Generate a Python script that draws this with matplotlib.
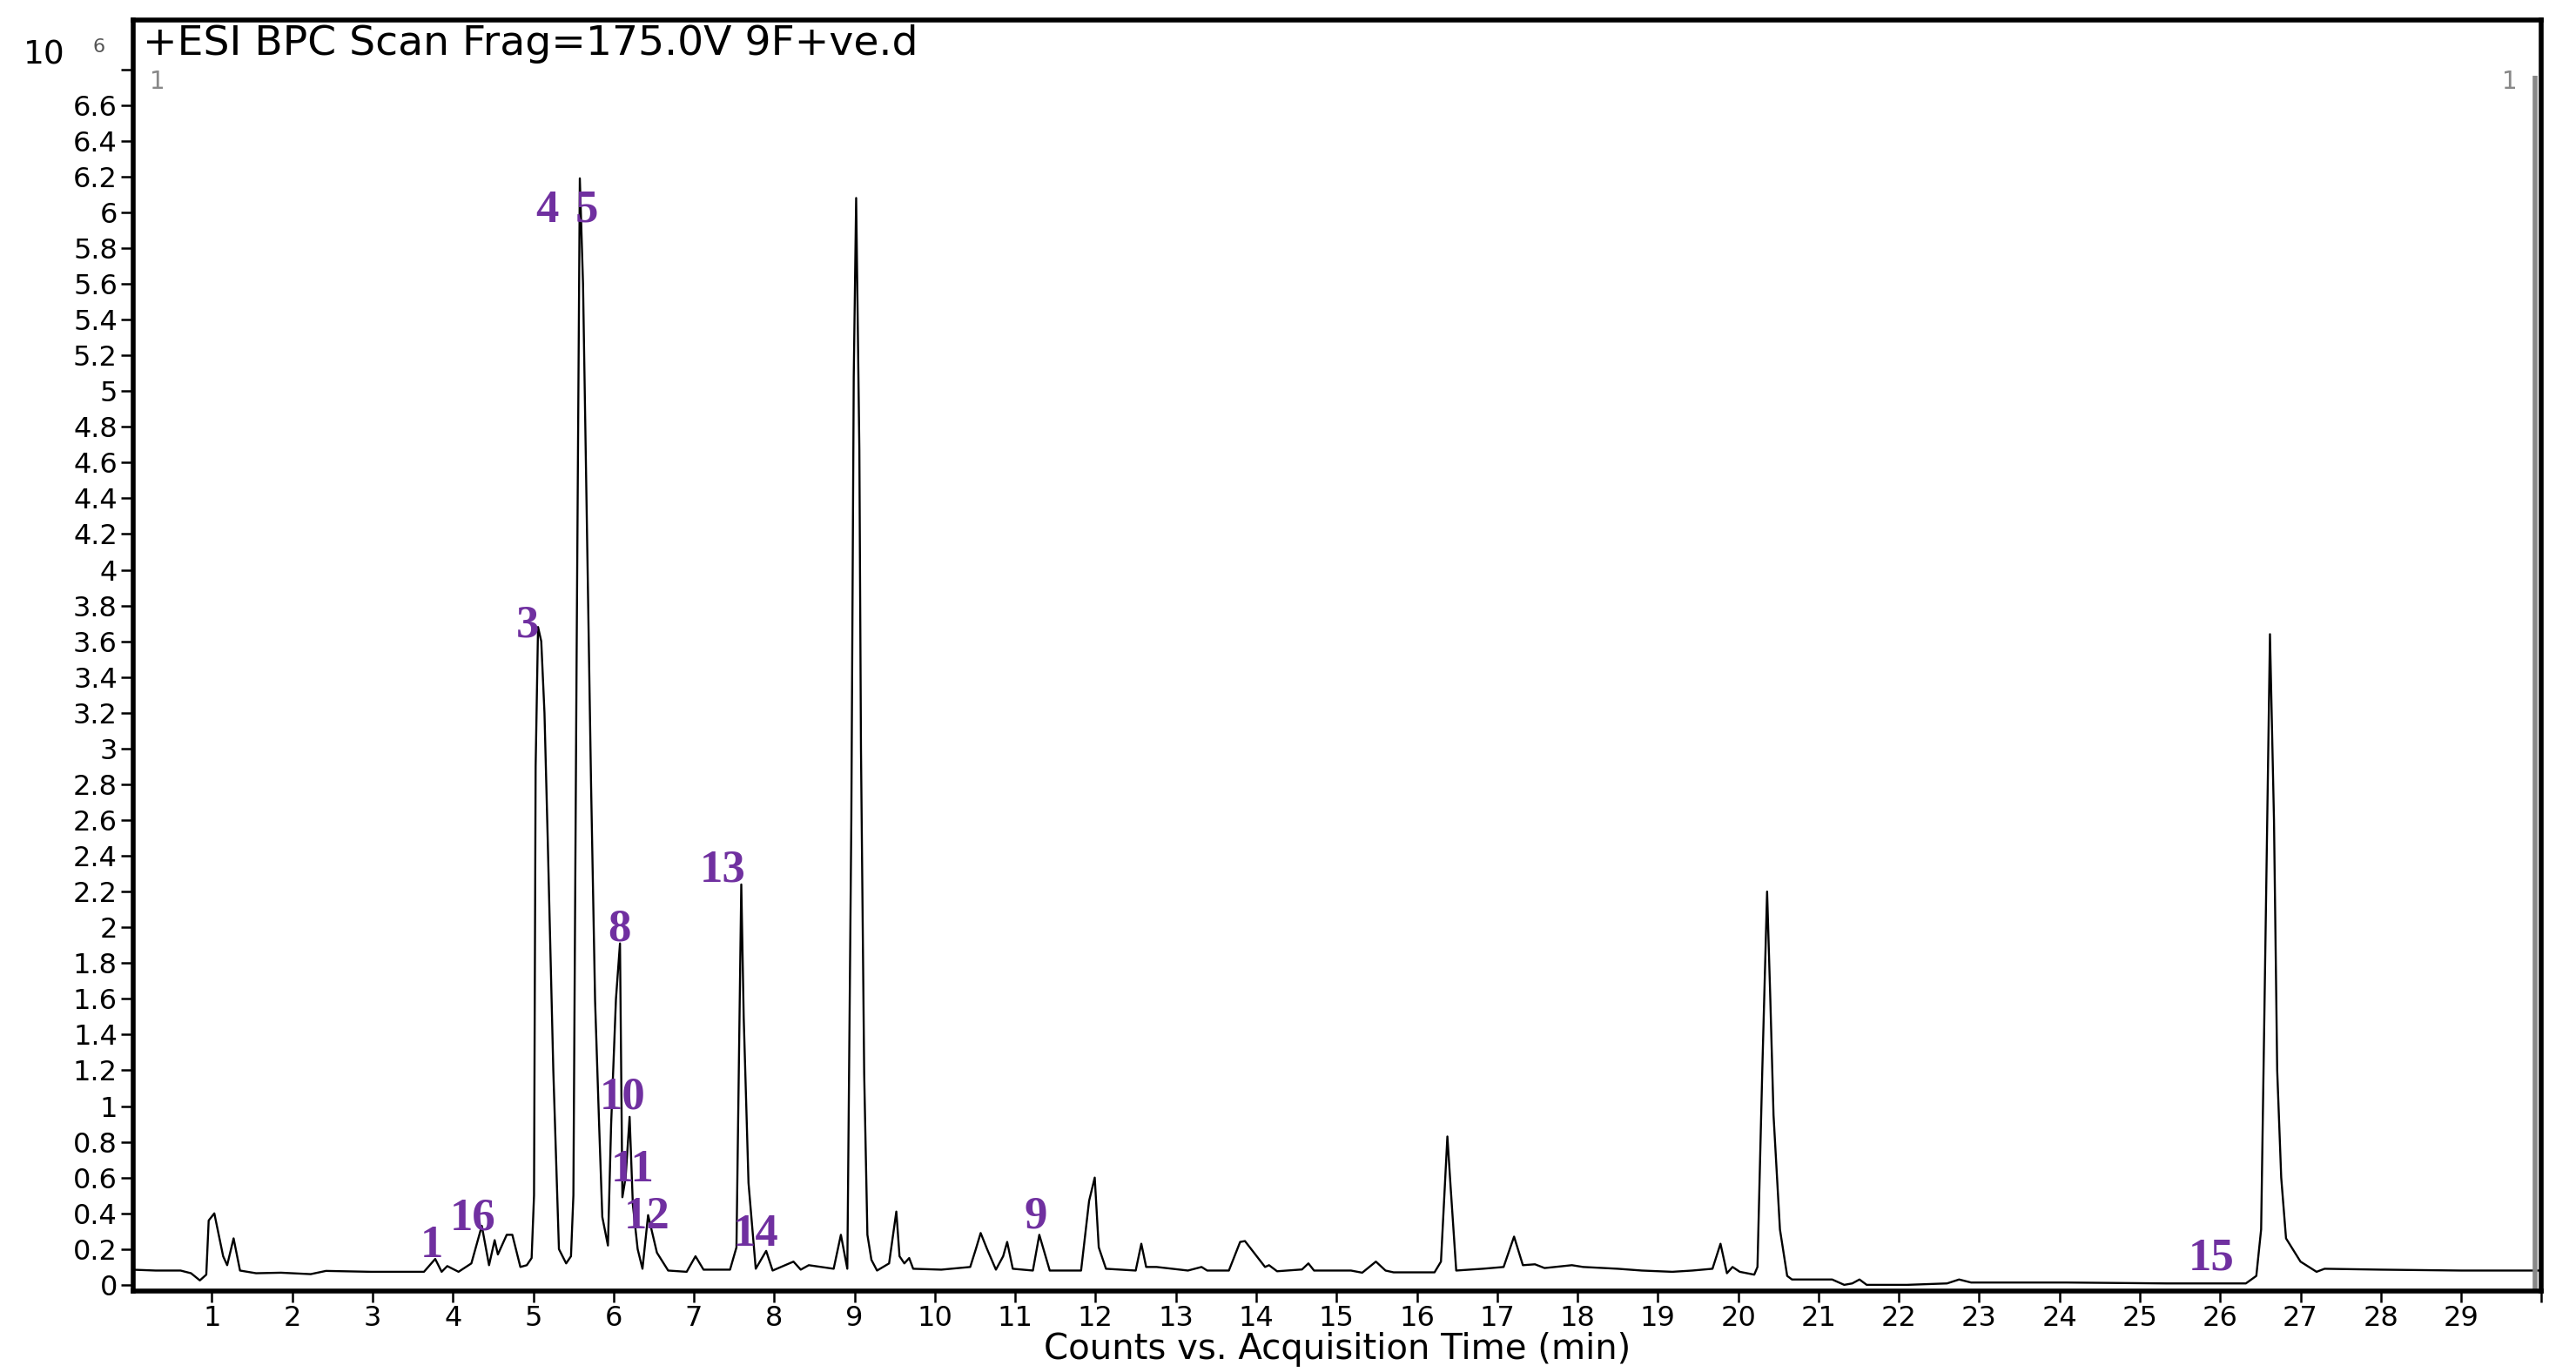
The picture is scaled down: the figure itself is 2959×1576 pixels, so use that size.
import numpy as np
import matplotlib.pyplot as plt

# retention time (min) and intensity (x10^6 counts)
time_min = [0.00, 0.30, 0.61, 0.74, 0.85, 0.93, 0.96, 1.03, 1.14, 1.19, 1.27, 1.35, 1.55, 1.86,
            2.23, 2.42, 2.98, 3.64, 3.78, 3.86, 3.93, 4.07, 4.23, 4.36, 4.45, 4.52, 4.56, 4.67,
            4.74, 4.84, 4.92, 4.98, 5.01, 5.03, 5.06, 5.10, 5.14, 5.18, 5.25, 5.32, 5.41, 5.47,
            5.50, 5.54, 5.58, 5.62, 5.67, 5.72, 5.77, 5.82, 5.86, 5.93, 5.97, 6.03, 6.08, 6.11,
            6.15, 6.20, 6.24, 6.30, 6.36, 6.43, 6.54, 6.68, 6.91, 7.02, 7.12, 7.45, 7.53, 7.59,
            7.62, 7.68, 7.77, 7.90, 7.98, 8.24, 8.33, 8.43, 8.74, 8.83, 8.91, 8.96, 8.99, 9.02,
            9.06, 9.08, 9.12, 9.16, 9.21, 9.28, 9.43, 9.52, 9.56, 9.62, 9.68, 9.73, 10.08, 10.44,
            10.51, 10.57, 10.65, 10.76, 10.85, 10.90, 10.97, 11.22, 11.30, 11.43, 11.82, 11.92,
            11.99, 12.04, 12.13, 12.50, 12.57, 12.63, 12.76, 13.15, 13.32, 13.39, 13.66, 13.80,
            13.86, 14.11, 14.16, 14.26, 14.57, 14.65, 14.72, 15.18, 15.32, 15.49, 15.61, 15.71,
            16.22, 16.30, 16.38, 16.42, 16.49, 16.82, 17.08, 17.21, 17.32, 17.47, 17.59, 17.93,
            18.07, 18.50, 18.80, 19.18, 19.43, 19.68, 19.78, 19.86, 19.93, 20.02, 20.20, 20.24,
            20.30, 20.36, 20.40, 20.44, 20.52, 20.61, 20.67, 21.17, 21.32, 21.42, 21.51, 21.60,
            22.10, 22.60, 22.75, 22.90, 24.09, 25.33, 26.32, 26.45, 26.51, 26.55, 26.62, 26.67,
            26.71, 26.76, 26.82, 27.00, 27.20, 27.30, 28.00, 29.00, 30.00]
counts = [0.085, 0.08, 0.08, 0.065, 0.025, 0.057, 0.36, 0.40, 0.16, 0.11, 0.26, 0.08, 0.065, 0.068,
          0.06, 0.078, 0.073, 0.073, 0.145, 0.073, 0.105, 0.073, 0.12, 0.33, 0.11, 0.25, 0.17, 0.28,
          0.28, 0.10, 0.11, 0.15, 0.5, 2.9, 3.68, 3.60, 3.2, 2.5, 1.2, 0.2, 0.12, 0.16,
          0.5, 3.5, 6.19, 5.6, 4.2, 2.8, 1.59, 0.9, 0.38, 0.22, 0.9, 1.6, 1.91, 0.49,
          0.6, 0.94, 0.45, 0.2, 0.09, 0.39, 0.18, 0.08, 0.073, 0.16, 0.085, 0.085, 0.21, 2.24,
          1.5, 0.57, 0.09, 0.19, 0.08, 0.13, 0.085, 0.11, 0.09, 0.28, 0.09, 2.6, 5.08, 6.08,
          4.67, 3.0, 1.18, 0.28, 0.14, 0.08, 0.12, 0.41, 0.16, 0.12, 0.15, 0.09, 0.085, 0.10,
          0.20, 0.29, 0.20, 0.085, 0.16, 0.24, 0.09, 0.08, 0.28, 0.08, 0.08, 0.47,
          0.60, 0.21, 0.09, 0.08, 0.23, 0.10, 0.10, 0.08, 0.10, 0.08, 0.08, 0.24,
          0.245, 0.10, 0.11, 0.076, 0.086, 0.12, 0.08, 0.08, 0.068, 0.13, 0.08, 0.07,
          0.07, 0.13, 0.83, 0.55, 0.08, 0.09, 0.10, 0.27, 0.11, 0.115, 0.094, 0.11,
          0.10, 0.09, 0.08, 0.073, 0.08, 0.09, 0.23, 0.065, 0.10, 0.073, 0.057, 0.10,
          1.2, 2.2, 1.6, 0.95, 0.31, 0.05, 0.03, 0.03, 0.0, 0.008, 0.03, 0.0,
          0.0, 0.008, 0.03, 0.013, 0.013, 0.008, 0.008, 0.05, 0.31, 1.5, 3.64, 2.6,
          1.2, 0.6, 0.26, 0.13, 0.073, 0.09, 0.085, 0.08, 0.08]

# compound numbers written over the peaks
peak_labels = ['1', '16', '3', '4', '5', '8', '10', '11', '12', '13', '14', '9', '15']
label_t = [3.74, 4.25, 4.93, 5.17, 5.66, 6.07, 6.11, 6.24, 6.42, 7.36, 7.77, 11.25, 25.89]
label_y = [0.22, 0.37, 3.69, 6.01, 6.01, 1.99, 1.05, 0.64, 0.38, 2.32, 0.28, 0.38, 0.15]

title = '+ESI BPC Scan Frag=175.0V 9F+ve.d'
xlabel = 'Counts vs. Acquisition Time (min)'

plt.rcParams['font.family'] = ['DejaVu Sans']

fig = plt.figure(figsize=(29.59, 15.76), dpi=100)
ax = fig.add_axes([0.0517, 0.0587, 0.9349, 0.9269])

ax.plot(time_min, counts, color='black', lw=1.7)

ax.set_xlim(0.02, 30)
ax.set_ylim(-0.037, 7.077)

ax.set_xticks(np.arange(1, 31))
ax.set_xticklabels([str(i) for i in range(1, 30)] + [''])
yt = np.round(np.arange(0, 6.81, 0.2), 1)
ax.set_yticks(yt)
ax.set_yticklabels(['%g' % v for v in yt[:-1]] + [''])
ax.tick_params(axis='both', direction='out', length=10, width=1.8, labelsize=23, pad=3)
ax.tick_params(axis='x', length=9, pad=2)

for s in ax.spines.values():
    s.set_linewidth(4)
    s.set_color('black')

ax.set_xlabel(xlabel, fontsize=29, labelpad=0)

# header / markers like the instrument export
ax.text(0.004, 0.981, title, transform=ax.transAxes, fontsize=34, va='center', ha='left')
ax.text(0.007, 0.951, '1', transform=ax.transAxes, fontsize=20, color='#888888', va='center')
ax.text(0.990, 0.951, '1', transform=ax.transAxes, fontsize=20, color='#888888', va='center', ha='right')
ax.plot([0.9975, 0.9975], [0, 0.956], transform=ax.transAxes, color='#888888', lw=4,
        solid_capstyle='butt')
fig.text(0.009, 0.960, '10', fontsize=27, va='center', ha='left')
fig.text(0.036, 0.966, '6', fontsize=16, va='center', ha='left', color='#555555')

for lab, t, y in zip(peak_labels, label_t, label_y):
    ax.text(t, y, lab, fontsize=38, color='#7030A0', family='Liberation Serif',
            fontweight='bold', ha='center', va='center')

fig.savefig('out.png', dpi=100, facecolor='white')
